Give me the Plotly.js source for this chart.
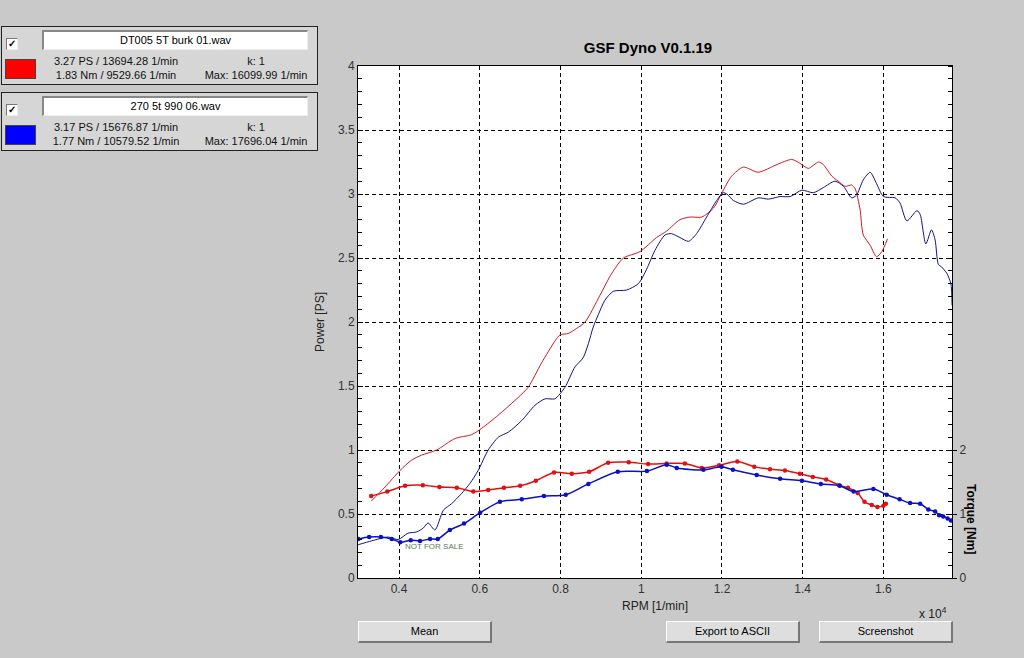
<!DOCTYPE html>
<html>
<head>
<meta charset="utf-8">
<script src="https://cdn.plot.ly/plotly-3.0.1.min.js"></script>
<style>
  html, body { margin:0; padding:0; background:#c9c9c9; width:1024px; height:658px; overflow:hidden;
    font-family: Arial, "Liberation Sans", sans-serif; }
  #chart { position:absolute; left:0; top:0; width:1024px; height:658px; }
  .panel { position:absolute; left:1px; width:315px; height:57px; border:1px solid #222; background:#d6d6d6; }
  .chk { position:absolute; left:4px; top:11px; width:10px; height:10px; background:#fff;
    border-top:1px solid #777; border-left:1px solid #777; border-right:1px solid #eee; border-bottom:1px solid #eee;
    font-size:10px; line-height:10px; text-align:center; color:#000; font-weight:bold; }
  .fname { position:absolute; left:40px; top:3px; width:263px; height:17px; background:#fff;
    border-top:2px solid #888; border-left:2px solid #888; border-right:1px solid #eee; border-bottom:1px solid #eee;
    font-size:11px; line-height:17px; text-align:center; color:#000; }
  .swatch { position:absolute; left:3px; top:32px; width:29px; height:18px; border:1px solid #444; }
  .txt { position:absolute; font-size:11px; color:#111; white-space:nowrap; transform:translateX(-50%); }
  .btn { position:absolute; top:621px; width:131px; height:19px; background:#dedede;
    border-top:1px solid #fff; border-left:1px solid #fff; border-right:2px solid #777; border-bottom:2px solid #777;
    font-size:11px; line-height:19px; text-align:center; color:#000; }
</style>
</head>
<body>
<div id="chart"></div>

<div class="panel" style="top:26px;">
  <div class="chk">&#10003;</div>
  <div class="fname">DT005 5T burk 01.wav</div>
  <div class="swatch" style="background:#ff0000;"></div>
  <div class="txt" style="left:114px; top:28px;">3.27 PS / 13694.28 1/min</div>
  <div class="txt" style="left:114px; top:42px;">1.83 Nm / 9529.66 1/min</div>
  <div class="txt" style="left:254px; top:28px;">k: 1</div>
  <div class="txt" style="left:254px; top:42px;">Max: 16099.99 1/min</div>
</div>
<div class="panel" style="top:92px;">
  <div class="chk">&#10003;</div>
  <div class="fname">270 5t 990 06.wav</div>
  <div class="swatch" style="background:#0000ff;"></div>
  <div class="txt" style="left:114px; top:28px;">3.17 PS / 15676.87 1/min</div>
  <div class="txt" style="left:114px; top:42px;">1.77 Nm / 10579.52 1/min</div>
  <div class="txt" style="left:254px; top:28px;">k: 1</div>
  <div class="txt" style="left:254px; top:42px;">Max: 17696.04 1/min</div>
</div>

<div class="btn" style="left:358px;">Mean</div>
<div class="btn" style="left:666px;">Export to ASCII</div>
<div class="btn" style="left:819px;">Screenshot</div>

<script>
// ---- Data ----
const redPowerRpm = [3310,3650,4025,4310,4560,4930,5390,5800,6050,6450,6950,7200,7530,7860,7990,8190,8400,8610,8980,9270,9560,9970,10380,10630,10960,11210,11500,11790,12000,12240,12530,12900,13360,13730,13930,14140,14390,14510,14720,14880,15050,15210,15300,15420,15500,15670,15830,15960,16100];
const redPower    = [0.60,0.71,0.84,0.92,0.96,1.00,1.09,1.12,1.17,1.27,1.41,1.49,1.68,1.85,1.90,1.91,1.95,2.00,2.21,2.38,2.50,2.55,2.66,2.71,2.80,2.82,2.82,2.89,3.01,3.14,3.21,3.17,3.23,3.27,3.24,3.20,3.25,3.23,3.14,3.10,3.06,3.07,3.04,2.88,2.68,2.60,2.51,2.55,2.65];

const bluePowerRpm = [2990,3320,3730,3980,4220,4440,4600,4720,4890,5100,5300,5550,5760,5960,6210,6460,6710,7040,7370,7620,7860,8110,8360,8560,8690,8810,8940,9100,9310,9640,9930,10130,10340,10590,10750,10960,11170,11370,11620,11870,12030,12120,12280,12530,12900,13150,13440,13690,13980,14260,14510,14800,15010,15210,15330,15500,15670,15830,16000,16290,16410,16580,16830,16910,17050,17190,17280,17360,17440,17570,17670,17700];
const bluePower    = [0.26,0.29,0.32,0.30,0.35,0.36,0.39,0.43,0.375,0.53,0.58,0.66,0.74,0.84,1.00,1.10,1.14,1.23,1.35,1.40,1.40,1.49,1.65,1.72,1.83,1.96,2.06,2.17,2.24,2.25,2.30,2.41,2.56,2.68,2.69,2.66,2.63,2.69,2.82,2.95,3.01,3.00,2.95,2.92,2.97,2.96,2.98,2.98,3.03,3.01,3.05,3.10,3.06,2.97,2.99,3.11,3.17,3.08,2.98,2.97,2.93,2.79,2.87,2.84,2.61,2.72,2.64,2.45,2.43,2.38,2.30,2.13];

const redTorqueRpm = [3310,3710,4150,4590,5000,5430,5840,6210,6600,7000,7390,7840,8280,8710,9180,9690,10170,10630,11080,11500,11930,12380,12800,13190,13560,13930,14250,14580,14900,15120,15360,15530,15710,15850,16000,16060];
const redTorque    = [1.28,1.35,1.44,1.45,1.42,1.41,1.35,1.375,1.41,1.44,1.52,1.65,1.63,1.66,1.80,1.81,1.78,1.79,1.79,1.72,1.76,1.82,1.74,1.70,1.68,1.63,1.58,1.54,1.45,1.41,1.33,1.19,1.14,1.11,1.13,1.16];

const blueTorqueRpm = [2990,3260,3550,3820,4030,4290,4520,4770,4960,5260,5610,6010,6500,7040,7590,8130,8690,9420,10140,10630,10880,11540,11990,12270,12860,13440,13980,14450,14920,15260,15750,16080,16400,16660,16910,17110,17280,17380,17480,17590,17670];
const blueTorque    = [0.61,0.64,0.64,0.61,0.56,0.59,0.58,0.61,0.61,0.75,0.85,1.02,1.19,1.23,1.28,1.30,1.47,1.66,1.67,1.77,1.72,1.69,1.74,1.69,1.61,1.55,1.52,1.47,1.44,1.35,1.39,1.30,1.23,1.17,1.16,1.07,1.04,0.98,0.96,0.93,0.90];

const xTickVals   = [4000,6000,8000,10000,12000,14000,16000];
const xTickText   = ['0.4','0.6','0.8','1','1.2','1.4','1.6'];
const yTickVals   = [0,0.5,1,1.5,2,2.5,3,3.5,4];
const yTickText   = ['0','0.5','1','1.5','2','2.5','3','3.5','4'];
const y2TickVals  = [0,1,2];
const y2TickText  = ['0','1','2'];

// ---- Plot ----
const FONT = 'Arial, "Liberation Sans", sans-serif';
const traces = [
  { x: redPowerRpm, y: redPower, type:'scatter', mode:'lines',
    line:{color:'#cc1a1a', width:1, shape:'spline', smoothing:0.7}, hoverinfo:'skip' },
  { x: bluePowerRpm, y: bluePower, type:'scatter', mode:'lines',
    line:{color:'#10108a', width:1, shape:'spline', smoothing:0.7}, hoverinfo:'skip' },
  { x: redTorqueRpm, y: redTorque, type:'scatter', mode:'lines+markers', yaxis:'y2',
    line:{color:'#e01010', width:1.5, shape:'spline', smoothing:0.8},
    marker:{color:'#e01010', size:4.5}, hoverinfo:'skip' },
  { x: blueTorqueRpm, y: blueTorque, type:'scatter', mode:'lines+markers', yaxis:'y2',
    line:{color:'#0a10c8', width:1.5, shape:'spline', smoothing:0.8},
    marker:{color:'#0a10c8', size:4.5}, hoverinfo:'skip' }
];

const layout = {
  width:1024, height:658,
  margin:{l:358, r:72, t:66, b:80, pad:0},
  paper_bgcolor:'rgba(0,0,0,0)',
  plot_bgcolor:'#ffffff',
  showlegend:false,
  font:{family:FONT, size:12, color:'#222'},
  title:{text:'<b>GSF Dyno V0.1.19</b>', font:{family:FONT, size:15, color:'#000'},
         xref:'paper', x:(648-358)/594, xanchor:'center', yref:'container', y:1-48/658, yanchor:'middle'},
  xaxis:{
    range:[2984,17698], tickmode:'array', tickvals:xTickVals, ticktext:xTickText,
    showline:true, linecolor:'#000', linewidth:1, mirror:true, ticks:'',
    showgrid:true, gridcolor:'#000', gridwidth:1, griddash:'4px,3px', zeroline:false,
    tickfont:{family:FONT, size:12, color:'#333'},
    title:{text:'RPM [1/min]', font:{family:FONT, size:12, color:'#222'}, standoff:6}
  },
  yaxis:{
    range:[0,4], tickmode:'array', tickvals:yTickVals, ticktext:yTickText,
    showline:true, linecolor:'#000', linewidth:1, ticks:'inside', ticklen:5, tickcolor:'#000',
    minor:{dtick:0.1, ticks:'inside', ticklen:4, tickcolor:'#000', showgrid:false},
    showgrid:true, gridcolor:'#000', gridwidth:1, griddash:'4px,3px', zeroline:false,
    tickfont:{family:FONT, size:12, color:'#333'},
    title:{text:'Power [PS]', font:{family:FONT, size:12, color:'#222'}, standoff:10}
  },
  yaxis2:{
    overlaying:'y', side:'right', range:[0,8], tickmode:'array', tickvals:y2TickVals, ticktext:y2TickText,
    showline:true, linecolor:'#000', linewidth:1, ticks:'outside', ticklen:4, tickcolor:'#000',
    minor:{dtick:0.2, tick0:0, ticks:'inside', ticklen:4, tickcolor:'#000', showgrid:false},
    showgrid:false, zeroline:false,
    tickfont:{family:FONT, size:12, color:'#333'}
  },
  annotations:[
    {xref:'paper', yref:'paper', x:(971-358)/594, y:(578-519)/512, text:'<b>Torque [Nm]</b>',
     textangle:90, showarrow:false, font:{family:FONT, size:12, color:'#000'}, xanchor:'center', yanchor:'middle'},
    {xref:'paper', yref:'paper', x:(949-358)/594, y:(578-613)/512, text:'x 10<sup>4</sup>',
     showarrow:false, font:{family:FONT, size:12, color:'#222'}, xanchor:'right', yanchor:'middle'},
    {xref:'paper', yref:'paper', x:(403-358)/594, y:(578-546)/512, text:'NOT FOR SALE',
     showarrow:false, font:{family:FONT, size:8, color:'#5e7a5e'}, xanchor:'left', yanchor:'middle'}
  ]
};

Plotly.newPlot('chart', traces, layout, {staticPlot:true, displayModeBar:false});
</script>
</body>
</html>
